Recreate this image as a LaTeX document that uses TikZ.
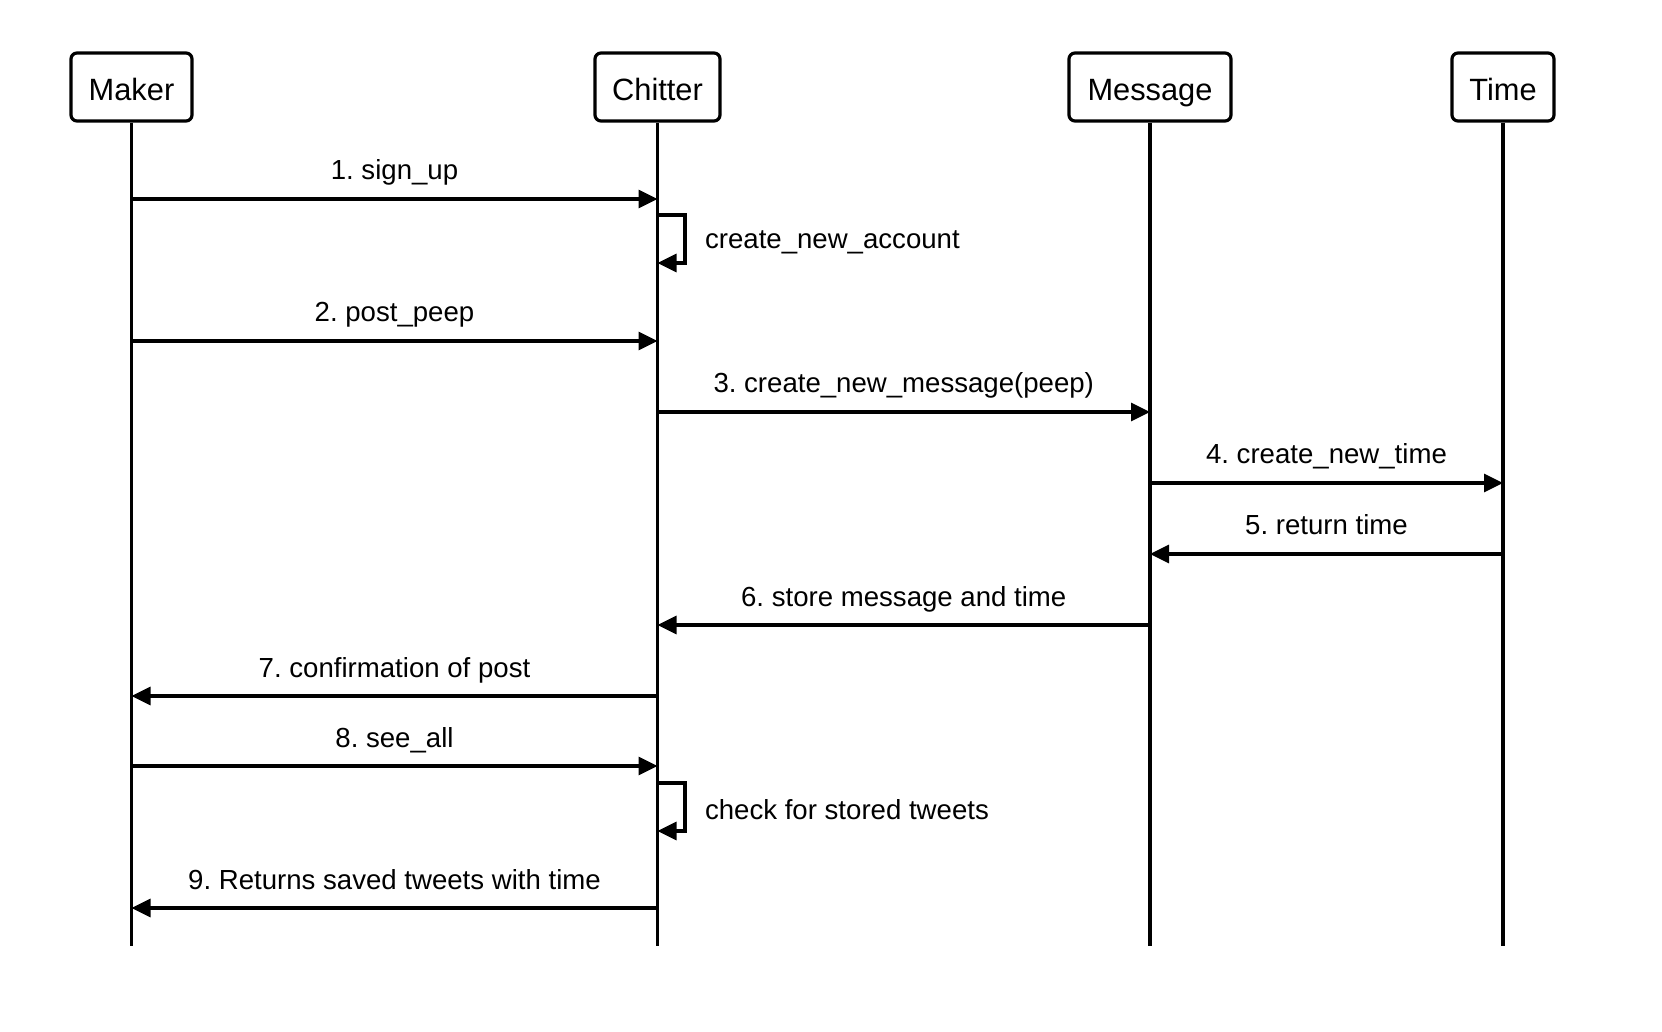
\documentclass[tikz,border=0pt]{standalone}
\usepackage{fontspec}
\setmainfont{Liberation Sans}
\usetikzlibrary{arrows.meta}
\frenchspacing
\begin{document}
\begin{tikzpicture}[x=0.5pt,y=-0.5pt,
  actor/.style={draw, line width=1.6pt, rounded corners=3pt, minimum height=34pt, inner sep=0pt, text height=17pt, text depth=3pt, font=\fontsize{15.4pt}{18pt}\selectfont},
  life/.style={line width=1.6pt},
  msg/.style={line width=1.6pt, -{Triangle[length=9.5pt,width=9pt]}},
  lbl/.style={anchor=base, font=\fontsize{13.8pt}{16pt}\selectfont, yshift=9.5pt},
  self/.style={anchor=west, font=\fontsize{13.8pt}{16pt}\selectfont}]
\useasboundingbox (0,0) rectangle (1662,1032);
\node[actor, minimum width=60.5pt] (Mk) at (131.5,87) {Maker};
\node[actor, minimum width=62.5pt] (Ch) at (657.5,87) {Chitter};
\node[actor, minimum width=81pt] (Ms) at (1150,87) {Message};
\node[actor, minimum width=51pt] (Tm) at (1503,87) {Time};
\coordinate (bot) at (0,946);
\foreach \n in {Mk,Ch,Ms,Tm} \draw[life] (\n.south) -- (\n |- bot);
\coordinate (r1) at (0,199);
\coordinate (r2) at (0,341);
\coordinate (r3) at (0,412);
\coordinate (r4) at (0,483);
\coordinate (r5) at (0,554);
\coordinate (r6) at (0,625);
\coordinate (r7) at (0,696);
\coordinate (r8) at (0,766);
\coordinate (r9) at (0,908);
\coordinate (s1a) at (685,215);
\coordinate (s1b) at (685,263);
\coordinate (s2a) at (685,783);
\coordinate (s2b) at (685,831);
\draw[msg] (Mk |- r1) -- node[lbl]{1. sign\_up} (Ch |- r1);
\draw[msg] (Ch |- s1a) -- (s1a) -- (s1b) -- (Ch |- s1b);
\node[self] (t1) at (698,242) {create\_new\_account};
\draw[msg] (Mk |- r2) -- node[lbl]{2. post\_peep} (Ch |- r2);
\draw[msg] (Ch |- r3) -- node[lbl]{3. create\_new\_message(peep)} (Ms |- r3);
\draw[msg] (Ms |- r4) -- node[lbl]{4. create\_new\_time} (Tm |- r4);
\draw[msg] (Tm |- r5) -- node[lbl]{5. return time} (Ms |- r5);
\draw[msg] (Ms |- r6) -- node[lbl]{6. store message and time} (Ch |- r6);
\draw[msg] (Ch |- r7) -- node[lbl]{7. confirmation of post} (Mk |- r7);
\draw[msg] (Mk |- r8) -- node[lbl]{8. see\_all} (Ch |- r8);
\draw[msg] (Ch |- s2a) -- (s2a) -- (s2b) -- (Ch |- s2b);
\node[self] (t2) at (698,810) {check for stored tweets};
\draw[msg] (Ch |- r9) -- node[lbl]{9. Returns saved tweets with time} (Mk |- r9);
\end{tikzpicture}
\end{document}
